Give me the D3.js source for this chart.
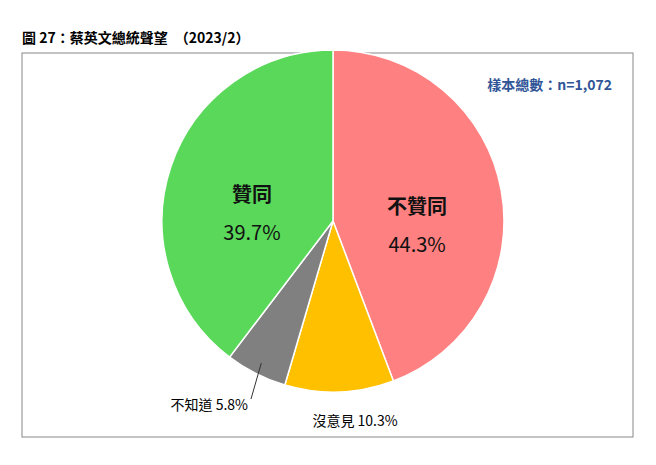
<!DOCTYPE html>
<html><head><meta charset="utf-8">
<script src="https://cdn.jsdelivr.net/npm/d3@7"></script>
<style>body{margin:0;background:#fff;font-family:"Noto Sans CJK TC","Noto Sans",sans-serif;}</style>
</head><body><svg id="c" width="656" height="465"></svg>
<script>
var categories = ['不贊同', '沒意見', '不知道', '贊同'];
var values = [44.3, 10.3, 5.8, 39.7];
var colors = ['#FF8080', '#FFC000', '#808080', '#5AD85A'];

var svg = d3.select('#c');
var cx = 333, cy = 221, r = 171;

svg.append('text').attr('x', 22).attr('y', 43).attr('font-size', 14).attr('font-weight', 'bold')
  .text('圖 27：蔡英文總統聲望　（2023/2）');
svg.append('rect').attr('x', 22).attr('y', 53).attr('width', 611).attr('height', 384)
  .attr('fill', 'none').attr('stroke', '#888').attr('stroke-width', 1);
svg.append('text').attr('x', 612).attr('y', 90).attr('text-anchor', 'end').attr('font-size', 14)
  .attr('font-weight', 'bold').attr('fill', '#2F5597').text('樣本總數：n=1,072');

var pie = d3.pie().sort(null).value(function(d) { return d; });
var arcs = pie(values);
var arc = d3.arc().innerRadius(0).outerRadius(r);
var g = svg.append('g').attr('transform', 'translate(' + cx + ',' + cy + ')');
g.selectAll('path').data(arcs).enter().append('path')
  .attr('d', arc).attr('fill', function(d, i) { return colors[i]; })
  .attr('stroke', '#fff').attr('stroke-width', 1.5);

// inside labels for big slices
var inner = d3.arc().innerRadius(r * 0.5).outerRadius(r * 0.5);
[0, 3].forEach(function(i) {
  var p = inner.centroid(arcs[i]);
  var t = g.append('text').attr('text-anchor', 'middle').attr('font-size', 20).attr('fill', '#111');
  t.append('tspan').attr('x', p[0]).attr('y', p[1] + 8).attr('font-weight', 'bold').text(categories[i]);
  t.append('tspan').attr('x', p[0]).attr('y', p[1] + 46).text(values[i].toFixed(1) + '%');
});

// outside labels
var edge = d3.arc().innerRadius(r * 0.93).outerRadius(r * 0.93);
var p2 = edge.centroid(arcs[2]);
g.append('line').attr('x1', p2[0]).attr('y1', p2[1]).attr('x2', -82).attr('y2', 178)
  .attr('stroke', '#333');
g.append('text').attr('x', -85).attr('y', 189).attr('text-anchor', 'end').attr('font-size', 14)
  .text(categories[2] + ' ' + values[2].toFixed(1) + '%');
g.append('text').attr('x', 22).attr('y', 205).attr('text-anchor', 'middle').attr('font-size', 14)
  .text(categories[1] + ' ' + values[1].toFixed(1) + '%');
</script></body></html>
